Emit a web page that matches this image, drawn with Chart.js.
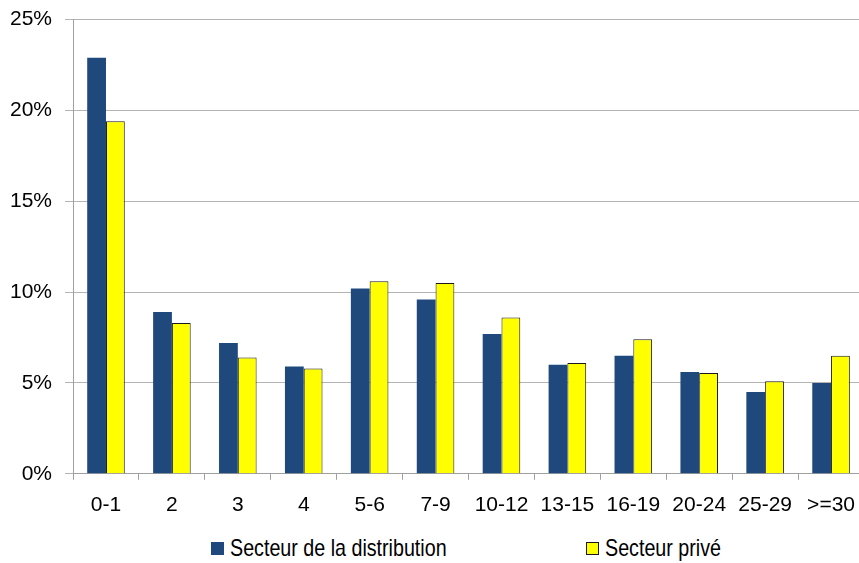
<!DOCTYPE html>
<html>
<head>
<meta charset="utf-8">
<script src="https://cdn.jsdelivr.net/npm/chart.js@4/dist/chart.umd.min.js"></script>
<style>
  html, body { margin: 0; padding: 0; background: #fff; overflow: hidden; width: 859px; height: 563px; position: relative; }
  #wrap { position: absolute; left: -15px; top: -6px; width: 883px; height: 537px; }
  .lg { position: absolute; top: 536px; height: 24px; display: flex; align-items: center;
        font-family: "Liberation Sans", Arial, sans-serif; font-size: 24px; color: #000; white-space: nowrap; }
  .lg .bx { width: 13px; height: 13px; margin-right: 6px; box-sizing: border-box; flex: none; }
  .lg .tx { display: inline-block; transform: scaleX(0.82); transform-origin: left center; }
</style>
</head>
<body>
<div id="wrap"><canvas id="c"></canvas></div>
<div id="legend"></div>
<script>
const categories = ['0-1', '2', '3', '4', '5-6', '7-9', '10-12', '13-15', '16-19', '20-24', '25-29', '>=30'];
const seriesNames = ['Secteur de la distribution', 'Secteur privé'];
const distribution = [22.9, 8.9, 7.2, 5.9, 10.2, 9.6, 7.7, 6.0, 6.5, 5.6, 4.5, 5.0];
const prive = [19.4, 8.3, 6.4, 5.8, 10.6, 10.5, 8.6, 6.1, 7.4, 5.55, 5.1, 6.5];
const yTicks = [0, 5, 10, 15, 20, 25];

const FONT = '"Liberation Sans", Arial, sans-serif';
const colors = [
  { bg: '#1F497D', border: '#1F497D', bw: 0 },
  { bg: '#FFFF00', border: '#1a1a1a', bw: 1 }
];

const chart = new Chart(document.getElementById('c'), {
  type: 'bar',
  data: {
    labels: categories,
    datasets: [distribution, prive].map((d, i) => ({
      label: seriesNames[i],
      data: d,
      backgroundColor: colors[i].bg,
      borderColor: colors[i].border,
      borderWidth: colors[i].bw,
      categoryPercentage: 0.57,
      barPercentage: 1.0
    }))
  },
  options: {
    responsive: true,
    maintainAspectRatio: false,
    animation: false,
    layout: { padding: { left: 12, top: 5, right: 0, bottom: 0 } },
    plugins: { legend: { display: false }, tooltip: { enabled: false } },
    scales: {
      x: {
        grid: { offset: true, drawOnChartArea: false, drawTicks: true, tickLength: 6, color: '#a0a0a0' },
        border: { color: '#a0a0a0', width: 1 },
        ticks: { color: '#000', font: { family: FONT, size: 21 }, padding: 13, maxRotation: 0, autoSkip: false }
      },
      y: {
        min: 0, max: 25,
        afterBuildTicks: (ax) => { ax.ticks = yTicks.map(v => ({ value: v })); },
        grid: { color: '#b4b4b4', tickLength: 8, drawTicks: true },
        border: { color: '#a0a0a0', width: 1 },
        ticks: { color: '#000', font: { family: FONT, size: 21 }, padding: 13, callback: v => v + '%' }
      }
    }
  }
});

const legend = document.getElementById('legend');
const legendLeft = [211, 586];
chart.data.datasets.forEach((ds, i) => {
  const item = document.createElement('div');
  item.className = 'lg';
  item.style.left = legendLeft[i] + 'px';
  const bx = document.createElement('span');
  bx.className = 'bx';
  bx.style.background = ds.backgroundColor;
  if (ds.borderWidth) bx.style.border = '1px solid ' + ds.borderColor;
  const tx = document.createElement('span');
  tx.className = 'tx';
  tx.textContent = ds.label;
  item.appendChild(bx);
  item.appendChild(tx);
  legend.appendChild(item);
});
</script>
</body>
</html>
